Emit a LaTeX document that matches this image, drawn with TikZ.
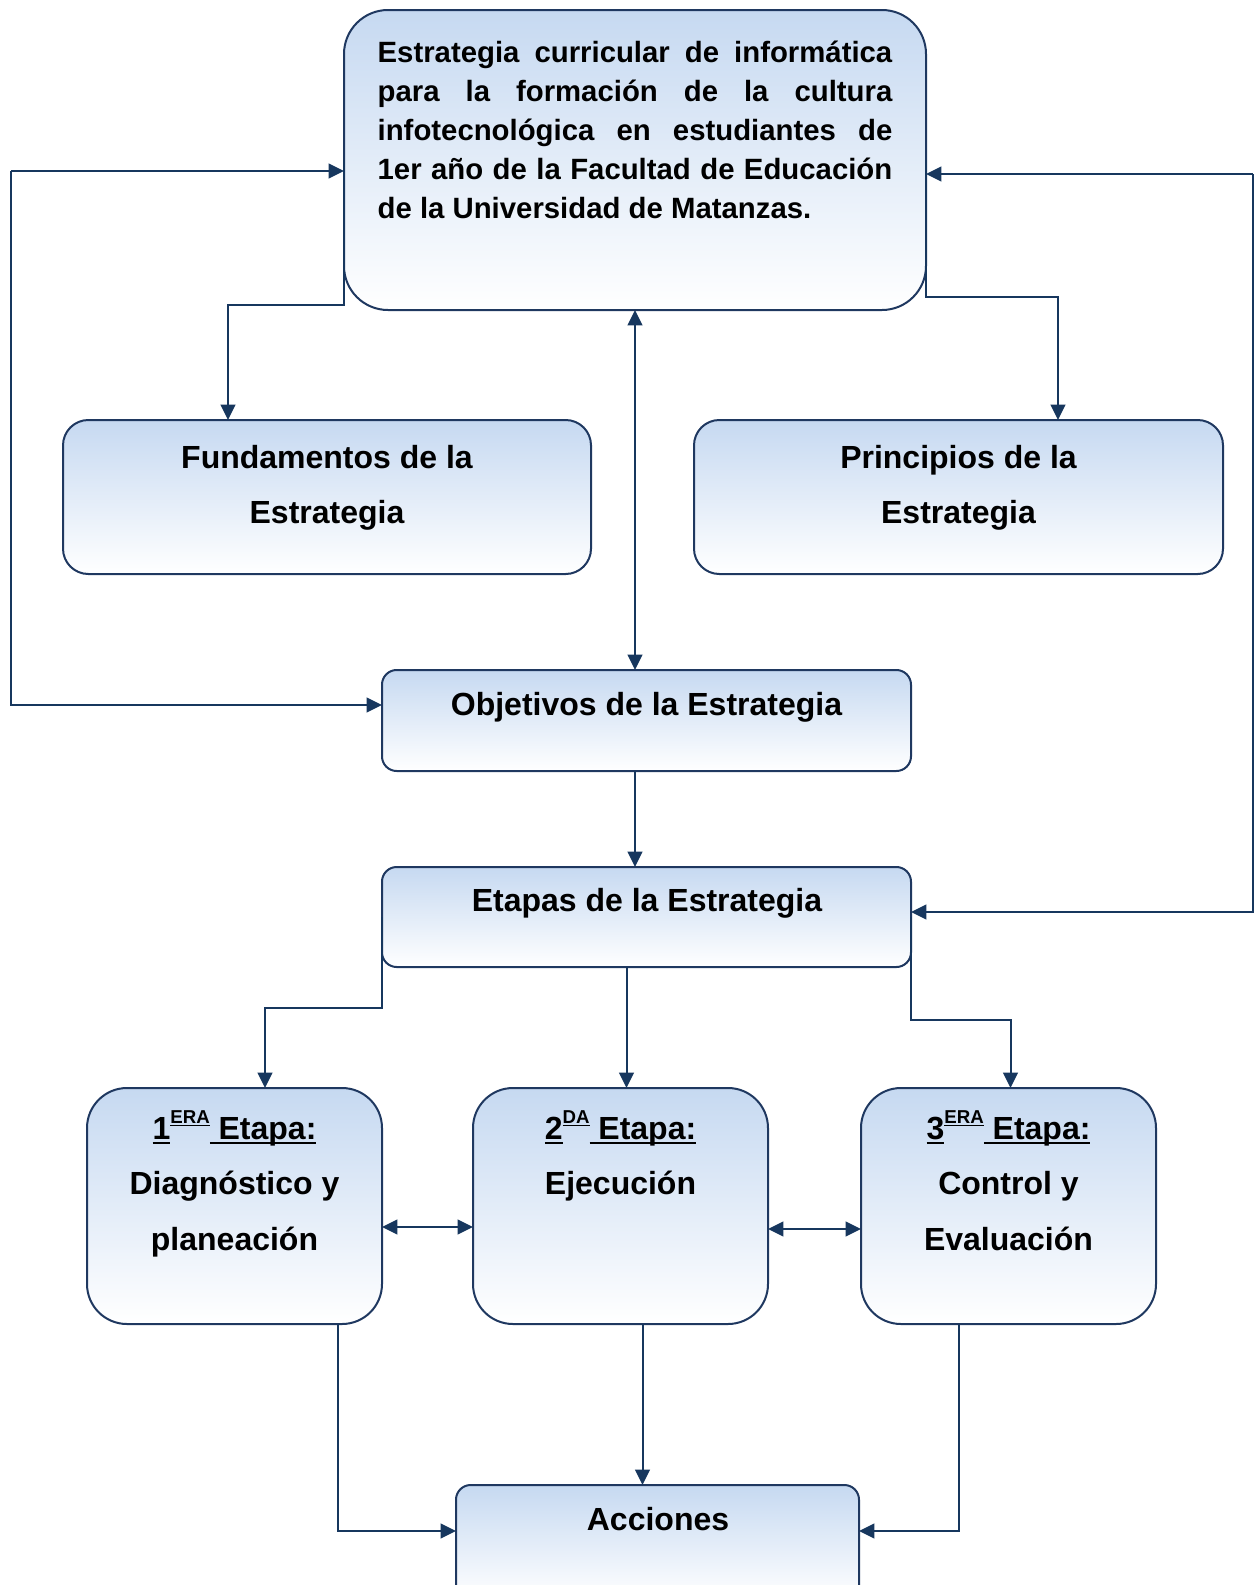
\documentclass[tikz,border=0pt]{standalone}
\usepackage{fontspec}
\setmainfont{Liberation Sans}
\usetikzlibrary{arrows.meta,calc}
\definecolor{linecol}{RGB}{23,55,94}
\definecolor{boxborder}{RGB}{31,56,96}
\definecolor{boxtop}{RGB}{198,217,241}
\newcommand\myul[1]{\setbox0\hbox{#1}\rlap{\rule[-0.14em]{\wd0}{0.07em}}\box0}
\tikzset{
  box/.style={draw=boxborder, line width=1.5pt, top color=boxtop, bottom color=white, inner sep=0pt, outer sep=0pt},
  txt/.style={inner sep=0pt, outer sep=0pt, text=black},
  conn/.style={draw=linecol, line width=1.5pt},
  >={Triangle[length=11.5pt,width=11pt]}
}
\begin{document}
\begin{tikzpicture}[x=0.75pt,y=-0.75pt]
\useasboundingbox (0,0) rectangle (1255,1585);
\clip (0,0) rectangle (1255,1585);
% boxes
\node[box, rounded corners=33pt, minimum width=436.5pt, minimum height=225pt] (top) at (635,160) {};
\node[box, rounded corners=19pt, minimum width=396pt, minimum height=115.5pt] (fund) at (327,497) {};
\node[box, rounded corners=19pt, minimum width=396.75pt, minimum height=115.5pt] (prin) at (958.5,497) {};
\node[box, rounded corners=11pt, minimum width=396.75pt, minimum height=75.75pt] (obj) at (646.5,720.5) {};
\node[box, rounded corners=11pt, minimum width=396.75pt, minimum height=75pt] (etap) at (646.5,917) {};
\node[box, rounded corners=30pt, minimum width=221.25pt, minimum height=177pt] (s1) at (234.5,1206) {};
\node[box, rounded corners=30pt, minimum width=221.25pt, minimum height=177pt] (s2) at (620.5,1206) {};
\node[box, rounded corners=30pt, minimum width=221.25pt, minimum height=177pt] (s3) at (1008.5,1206) {};
\node[box, rounded corners=11pt, minimum width=302.25pt, minimum height=86.25pt] (acc) at (657.5,1542.5) {};
% texts
\node[txt, text width=386pt, align=justify, anchor=north,
      font=\bfseries\fontsize{22}{29.25}\selectfont] (toptext) at (635,32.7)
  {\hyphenpenalty=10000\tolerance=10000\rule{0pt}{1em}Estrategia curricular de informática\linebreak para la formación de la cultura\linebreak infotecnológica en estudiantes de\linebreak 1er año de la Facultad de Educación\linebreak de la Universidad de Matanzas.};
\node[txt, align=center, anchor=north, font=\bfseries\fontsize{24}{41}\selectfont] (fundtext) at (327,436.5)
  {\rule{0pt}{1em}Fundamentos de la\\Estrategia};
\node[txt, align=center, anchor=north, font=\bfseries\fontsize{24}{41}\selectfont] (printext) at (958.5,436.5)
  {\rule{0pt}{1em}Principios de la\\Estrategia};
\node[txt, anchor=base, font=\bfseries\fontsize{24}{28}\selectfont] (objtext) at (646.5,715.5) {Objetivos de la Estrategia};
\node[txt, anchor=base, font=\bfseries\fontsize{24}{28}\selectfont] (etaptext) at (647,911.5) {Etapas de la Estrategia};
\node[txt, anchor=base, font=\bfseries\fontsize{24}{28}\selectfont] (acctext) at (658,1530.5) {Acciones};
\node[txt, align=center, anchor=north, font=\bfseries\fontsize{24}{41.6}\selectfont] (s1text) at (234.5,1107.5)
  {\rule{0pt}{1em}\myul{1}\raisebox{0.5em}{\fontsize{14}{14}\selectfont\myul{ERA}}\myul{\ Etapa:}\\Diagnóstico y\\planeación};
\node[txt, align=center, anchor=north, font=\bfseries\fontsize{24}{41.6}\selectfont] (s2text) at (620.5,1107.5)
  {\rule{0pt}{1em}\myul{2}\raisebox{0.5em}{\fontsize{14}{14}\selectfont\myul{DA}}\myul{\ Etapa:}\\Ejecución};
\node[txt, align=center, anchor=north, font=\bfseries\fontsize{24}{41.6}\selectfont] (s3text) at (1008.5,1107.5)
  {\rule{0pt}{1em}\myul{3}\raisebox{0.5em}{\fontsize{14}{14}\selectfont\myul{ERA}}\myul{\ Etapa:}\\Control y\\Evaluación};
% helper coordinates
\coordinate (lt) at (11,171);
\coordinate (lb) at (11,705);
\coordinate (rt) at (1253,174);
\coordinate (rb) at (1253,912);
\coordinate (cf) at (228,305);
\coordinate (cp) at (1058,297);
\coordinate (c1) at (265,1007.5);
\coordinate (c3) at (1010.5,1019.5);
\coordinate (al) at (337.5,1531);
\coordinate (ar) at (959,1531);
\coordinate (x2) at ($(s2.north)+(6,0)$);
\coordinate (xa) at ($(acc.north)+(-15,0)$);
% connectors
\draw[conn,->] (lt) -- (lt -| top.west);
\draw[conn,->] (lt) -- (lb) -- (lb -| obj.west);
\draw[conn,->] (rt) -- (rt -| top.east);
\draw[conn,->] (rt) -- (rb) -- (rb -| etap.east);
\draw[conn,->] (top.west) |- (cf) -- (cf |- fund.north);
\draw[conn,->] (top.east) |- (cp) -- (cp |- prin.north);
\draw[conn,<->] (top.south) -- (top.south |- obj.north);
\draw[conn,->] (top.south |- obj.south) -- (top.south |- etap.north);
\draw[conn,->] (etap.west) |- (c1) -- (c1 |- s1.north);
\draw[conn,->] (x2 |- etap.south) -- (x2);
\draw[conn,->] (etap.east) |- (c3) -- (c3 |- s3.north);
\draw[conn,<->] ($(s1.east)+(0,21)$) -- ($(s2.west)+(0,21)$);
\draw[conn,<->] ($(s2.east)+(0,23)$) -- ($(s3.west)+(0,23)$);
\draw[conn,->] (al |- s1.south) -- (al) -- (al -| acc.west);
\draw[conn,->] (xa |- s2.south) -- (xa);
\draw[conn,->] (ar |- s3.south) -- (ar) -- (ar -| acc.east);
\end{tikzpicture}
\end{document}
